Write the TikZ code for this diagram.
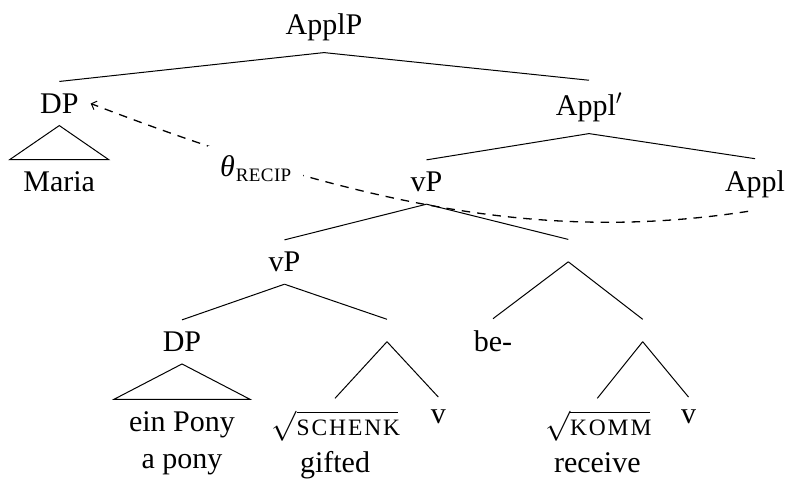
\RequirePackage{fix-cm}
\documentclass[tikz,border=0pt]{standalone}
\usepackage{fontspec}
\setmainfont{Liberation Serif}
\usetikzlibrary{calc,arrows.meta}
% letter-spaced capitals used for roots
\newcommand{\rootcaps}[1]{\mbox{\fontsize{23.5}{23.5}\selectfont\addfontfeature{LetterSpace=8}#1\kern-1.9pt}}
\begin{document}
\begin{tikzpicture}[x=1pt,y=-1pt,
  every node/.style={font=\fontsize{30}{37}\selectfont, inner xsep=0pt, inner ysep=12pt},
  lbl/.style={anchor=base},
  leaf/.style={anchor=north, align=center},
  junct/.style={minimum height=22pt, minimum width=0pt, inner sep=0pt},
  branch/.style={line width=1pt},
  thetaarrow/.style={line width=1.3pt, dash pattern=on 8.5pt off 7pt,
    -{Straight Barb[length=4.5pt,width=9pt,line width=1pt]}, shorten <=7pt}]
\fill[white] (0,0) rectangle (789,480);
\useasboundingbox (0,0) rectangle (789,480);

% labelled nodes, placed on their baselines
\node[lbl] (ApplP) at (324,34) {ApplP};
\node[lbl, inner xsep=12pt] (DPa) at (59.3,113.3) {DP};
\node[lbl] (Maria) at (59.2,191.7) {Maria};
\node[lbl] (Applbar) at (589,115) {Appl$'$};
\node[lbl] (vPa) at (426.5,191.7) {vP};
\node[lbl] (Appl) at (755,191.7) {Appl};
\node[lbl] (vPb) at (284.5,271.7) {vP};
\node[junct] (Xa) at (568.3,250.6) {};
\node[lbl] (DPb) at (182,351.7) {DP};
\node[junct] (Xb) at (387,330.5) {};
\node[lbl] (be) at (493,351.7) {be-};
\node[junct] (Xc) at (642.7,330.5) {};
\node[lbl] (va) at (438.3,423) {v};
\node[lbl] (vb) at (688.5,423) {v};

% terminal nodes
\node[leaf] (pony) at (182,399.3) {ein Pony\\a pony};
\node[leaf] (schenk) at (335,398.3) {$\sqrt{\rootcaps{SCHENK}}$\\gifted};
\node[leaf] (komm) at (597.3,398.3) {$\sqrt{\rootcaps{KOMM}}$\\receive};

% branches
\draw[branch] (ApplP.south) -- (DPa.north);
\draw[branch] (ApplP.south) -- (Applbar.north);
\draw[branch] (Applbar.south) -- (vPa.north);
\draw[branch] (Applbar.south) -- (Appl.north);
\draw[branch] (vPa.south) -- (vPb.north);
\draw[branch] (vPa.south) -- (Xa.north);
\draw[branch] (vPb.south) -- (DPb.north);
\draw[branch] (vPb.south) -- (Xb.north);
\draw[branch] (Xb.south) -- (schenk.north);
\draw[branch] (Xb.south) -- (va.north);
\draw[branch] (Xa.south) -- (be.north);
\draw[branch] (Xa.south) -- (Xc.north);
\draw[branch] (Xc.south) -- (komm.north);
\draw[branch] (Xc.south) -- (vb.north);

% triangles over unanalysed phrases
\draw[branch] (DPa.south) -- ($(Maria.north)+(-49.5,0)$) -- ($(Maria.north)+(49.5,0)$) -- cycle;
\draw[branch] (DPb.south) -- ($(pony.north)+(-68,0)$) -- ($(pony.north)+(68,0)$) -- cycle;

% theta-role assignment from Appl to the applied DP
\draw[thetaarrow] (Appl.south) .. controls (560,240) and (380,215) .. (DPa.east);
\node[anchor=base west, fill=white, inner xsep=12pt, inner ysep=9pt] (theta) at (208,176)
  {{\itshape θ}\kern1pt\raisebox{-5.7pt}{\fontsize{19}{19}\selectfont\addfontfeature{LetterSpace=2}RECIP}};
\end{tikzpicture}
\end{document}
